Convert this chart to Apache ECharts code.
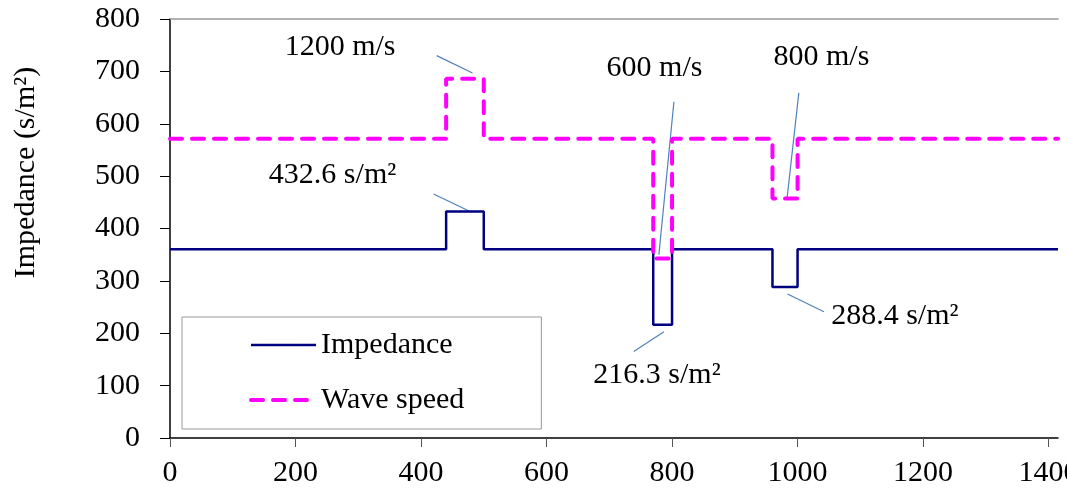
<!DOCTYPE html>
<html>
<head>
<meta charset="utf-8">
<script src="https://cdn.jsdelivr.net/npm/echarts@6/dist/echarts.min.js"></script>
<style>
  html, body { margin: 0; padding: 0; background: #fff; }
  #chart { width: 1067px; height: 493px; }
</style>
</head>
<body>
<div id="chart"></div>
<script>
// step boundaries along the x axis
const xBreaks = [0, 440, 500, 770, 800, 960, 1000, 1415];
const impedance = [360.5, 432.6, 360.5, 216.3, 360.5, 288.4, 360.5, 360.5];
const waveSpeed = [571.4, 685.7, 571.4, 342.9, 571.4, 457.1, 571.4, 571.4];
const xTicks = [0, 200, 400, 600, 800, 1000, 1200, 1400];

// annotation texts (centre in data units)
const noteText = ['1200 m/s', '432.6 s/m²', '600 m/s', '800 m/s', '216.3 s/m²', '288.4 s/m²'];
const noteX = [271, 259, 772, 1038, 776, 1155];
const noteY = [747, 501, 707, 728, 121, 233];
// leader lines, from -> to
const leadFrom = [[425, 730], [420, 466], [803, 642], [1002, 659], [787, 203], [984, 275]];
const leadTo = [[482, 697], [479, 432], [779, 350], [983, 455], [739, 165], [1042, 241]];

const serif = 'Liberation Serif';
const fs = 30;

const chart = echarts.init(document.getElementById('chart'));

const impLine = { color: '#000080', width: 2.5 };
const waveLine = { color: '#ff00ff', width: 4, type: [12, 10], cap: 'round' };

chart.setOption({
  animation: false,
  textStyle: { fontFamily: serif },
  grid: { left: 170, right: 9, top: 19, bottom: 55, outerBoundsMode: 'none', containLabel: false },
  legend: {
    orient: 'vertical',
    left: 182,
    top: 317,
    padding: [12, 77, 13, 67],
    itemWidth: 65,
    itemHeight: 14,
    itemGap: 23,
    borderColor: '#999',
    borderWidth: 1,
    itemStyle: { opacity: 0 },
    textStyle: { fontFamily: serif, fontSize: fs, color: '#000', lineHeight: 32 },
    data: [
      { name: 'Impedance', lineStyle: impLine },
      { name: 'Wave speed', lineStyle: waveLine }
    ]
  },
  xAxis: [
    {
      type: 'value',
      min: 0,
      max: xBreaks[xBreaks.length - 1],
      splitLine: { show: false },
      axisLine: { lineStyle: { color: '#000', width: 1.5 } },
      axisTick: { length: 9, lineStyle: { color: '#555' }, customValues: xTicks },
      axisLabel: {
        customValues: xTicks,
        formatter: v => String(v),
        margin: 20,
        fontFamily: serif,
        fontSize: fs,
        color: '#000'
      }
    },
    {
      // grey frame line along the top of the plot
      type: 'value',
      position: 'top',
      min: 0,
      max: xBreaks[xBreaks.length - 1],
      splitLine: { show: false },
      axisLine: { lineStyle: { color: '#999', width: 1.5 } },
      axisTick: { show: false },
      axisLabel: { show: false }
    }
  ],
  yAxis: {
    type: 'value',
    min: 0,
    max: 800,
    interval: 100,
    name: 'Impedance (s/m²)',
    nameLocation: 'middle',
    nameRotate: 90,
    nameGap: 129,
    nameTextStyle: { fontFamily: serif, fontSize: fs, color: '#000', padding: [0, 0, 0, 112] },
    splitLine: { show: false },
    axisLine: { show: true, lineStyle: { color: '#000', width: 1.5 } },
    axisTick: { show: true, length: 10, lineStyle: { color: '#000' } },
    axisLabel: { margin: 30, fontFamily: serif, fontSize: fs, color: '#000' }
  },
  series: [
    {
      name: 'Impedance',
      type: 'line',
      step: 'end',
      symbol: 'none',
      color: '#000080',
      lineStyle: impLine,
      data: xBreaks.map((x, i) => [x, impedance[i]])
    },
    {
      name: 'Wave speed',
      type: 'line',
      step: 'end',
      symbol: 'none',
      color: '#ff00ff',
      lineStyle: waveLine,
      data: xBreaks.map((x, i) => [x, waveSpeed[i]])
    },
    {
      name: 'leaders',
      type: 'lines',
      coordinateSystem: 'cartesian2d',
      silent: true,
      lineStyle: { color: '#4f81bd', width: 1.2, opacity: 1 },
      data: leadFrom.map((p, i) => ({ coords: [p, leadTo[i]] }))
    },
    {
      name: 'notes',
      type: 'scatter',
      symbolSize: 0,
      silent: true,
      itemStyle: { opacity: 1 },
      label: {
        show: true,
        position: 'inside',
        formatter: '{b}',
        fontFamily: serif,
        fontSize: fs,
        color: '#000'
      },
      data: noteText.map((t, i) => ({ name: t, value: [noteX[i], noteY[i]] }))
    }
  ]
});
</script>
</body>
</html>
